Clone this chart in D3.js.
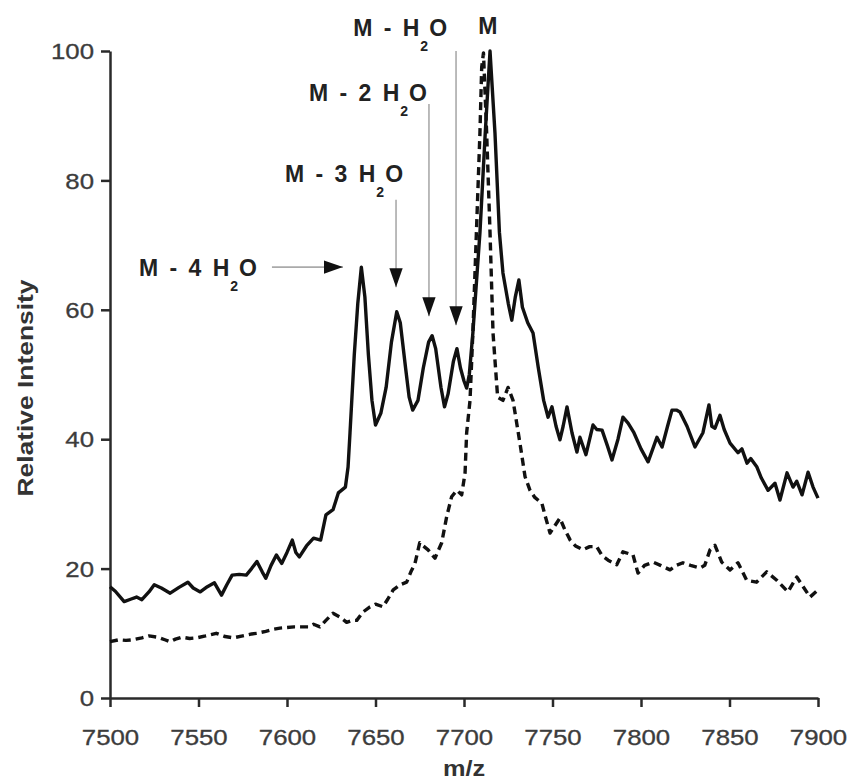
<!DOCTYPE html>
<html lang="en">
<head>
<meta charset="utf-8">
<title>Relative Intensity vs m/z</title>
<script src="https://d3js.org/d3.v7.min.js"></script>
<style>
  body { margin: 0; background: #fff; }
  svg { display: block; font-family: "Liberation Sans", Arial, sans-serif; }
  .axis path, .axis line { stroke: #2a2a2a; stroke-width: 2.5px; fill: none; }
  .tick text { fill: #3c3c3c; font-size: 21.5px; stroke: #3c3c3c; stroke-width: 0.3px; }
  .title { font-weight: bold; font-size: 22px; fill: #333; }
  .ann { font-weight: bold; font-size: 23px; fill: #222; word-spacing: 5px; }
  .ann .sub { font-size: 14px; }
</style>
</head>
<body>
<div id="chart"></div>
<script>
// x ticks (m/z) and y ticks (relative intensity)
var xTicks = [7500, 7550, 7600, 7650, 7700, 7750, 7800, 7850, 7900];
var yTicks = [0, 20, 40, 60, 80, 100];

// solid trace [m/z, intensity]
var solidTrace = [
  [7500,17.2],[7503,16.5],[7508,14.9],[7512,15.3],[7515,15.6],[7518,15.2],[7522,16.4],[7525,17.5],
  [7529,17.0],[7534,16.2],[7539,17.1],[7544,17.9],[7547,17.0],[7551,16.4],[7555,17.2],[7559,17.8],
  [7563,15.9],[7566,17.5],[7569,19.0],[7573,19.1],[7577,19.0],[7580,20.0],[7583,21.1],[7586,19.5],
  [7588,18.5],[7591,20.5],[7594,22.1],[7597,20.8],[7600,22.5],[7603,24.4],[7605,22.5],[7607,21.8],
  [7611,23.5],[7615,24.7],[7619,24.4],[7622,28.3],[7626,29.1],[7629,31.7],[7633,32.6],[7634.5,35.7],
  [7635.6,41],[7636.6,46],[7638,53],[7640,61],[7642,66.6],[7644,62],[7646,53],[7648,46],
  [7650,42.2],[7653,44],[7656,48],[7659,55],[7662,59.7],[7664,58],[7667,51],[7669,46.5],
  [7671,44.5],[7674,46],[7677,51],[7680,55],[7682,56],[7684,54],[7687,48],[7689,45],
  [7691,47],[7694,52],[7696,54],[7698,51],[7700,49],[7701.5,47.9],[7703,50],[7705,56.4],
  [7709,71.9],[7712,87.3],[7714.7,100],[7717.5,87.3],[7720,72],[7722,65.7],[7725,61],[7727,58.4],
  [7729,62],[7731,64.6],[7733,60.4],[7736,58],[7739,56.4],[7742,51],[7745,46],[7747.5,43.4],
  [7749.7,45],[7752,42],[7754.2,39.9],[7756,42],[7758.2,45],[7761,41],[7763.8,38],[7765.5,40.3],
  [7768.9,37.6],[7772.9,42.2],[7775,41.5],[7778,41.4],[7781,39],[7783.6,36.8],[7787,40],[7789.8,43.4],
  [7792.7,42.5],[7796,41],[7800,38.5],[7804,36.5],[7806,38],[7809,40.3],[7811.9,38.8],[7815,42],
  [7817.5,44.5],[7820,44.5],[7822,44.2],[7826,42],[7830.5,38.8],[7835,41],[7838.4,45.3],[7840,42],
  [7841.8,41.7],[7844.6,43.7],[7847,41.5],[7850.3,39.4],[7854.8,37.9],[7857,38.5],[7859.9,36.3],[7862,37],
  [7865.5,35.7],[7868,34],[7871.8,32.1],[7875.7,33.2],[7878.5,30.6],[7882.5,34.8],[7885.9,32.6],[7888,33.5],
  [7891,31.4],[7894.4,34.9],[7897.2,32.6],[7900,30.9]
];

// dashed trace [m/z, intensity]
var dashedTrace = [
  [7500,8.7],[7505,9.0],[7509,8.9],[7513,9.0],[7518,9.3],[7522,9.6],[7527,9.4],[7531,9.0],
  [7534,8.7],[7537,9.1],[7540.5,9.4],[7545,9.2],[7549,9.3],[7554,9.6],[7560,10.0],[7565,9.5],
  [7569.5,9.3],[7575,9.6],[7580,9.9],[7583,10.0],[7588,10.3],[7592,10.6],[7596,10.8],[7600,10.9],
  [7604,11.0],[7607.3,11.0],[7612,11.0],[7615,11.4],[7618.6,11.0],[7622,12.0],[7626,13.1],[7630,12.5],
  [7633.7,11.7],[7637,12.0],[7639.4,12.0],[7643,13.3],[7646.9,14.1],[7650,14.5],[7654.2,14.1],[7657,15.3],
  [7660,16.7],[7664,17.5],[7667.6,17.9],[7670,19.5],[7672.3,20.8],[7675,24.0],[7677,23.5],[7679.7,22.9],
  [7683.6,21.6],[7687.4,24.0],[7690.2,28.0],[7693,31.1],[7696,32.1],[7698.7,31.4],[7700.6,34.8],[7701.5,41],
  [7703.4,46],[7705,56.4],[7707,71.9],[7709,87.3],[7710,97.5],[7711,99.7],[7712.8,87.3],[7714.7,72],
  [7716.4,56.4],[7719,46.5],[7722,46],[7724.9,48],[7727.7,46],[7731.6,39.4],[7734.5,34.2],[7737.3,32.1],
  [7740,31],[7744,30.1],[7746,28],[7748.6,25.5],[7751,26.5],[7754.2,27.8],[7757,26],[7760,24.4],
  [7763,23.5],[7767.2,22.9],[7771,23.4],[7775,23.4],[7778,22],[7781.4,21.3],[7786.3,20.6],[7789.8,22.6],
  [7795.5,22.1],[7798.3,19.3],[7802,20.5],[7806.8,21.0],[7811,20.5],[7816.4,19.8],[7820,20.5],[7823.7,20.9],
  [7828,20.5],[7833.3,20.1],[7836,20.5],[7839,22.9],[7841.8,23.6],[7845.6,21.0],[7850.3,19.8],[7854.8,20.9],
  [7859.7,18.2],[7865.3,17.9],[7871,19.5],[7876.7,18.2],[7883,16.4],[7888,18.7],[7895.5,15.6],[7900,16.7]
];

// peak annotations: label prefix, arrow tip [m/z, intensity], arrow tail [m/z, intensity]
var annLabels = ["M - 4 H", "M - 3 H", "M - 2 H", "M - H"];
var annTips = [[7631.6, 66.6], [7661.6, 63.5], [7680.2, 59.0], [7695.5, 57.6]];
var annTails = [[7591.5, 66.6], [7661.6, 77.0], [7680.2, 91.8], [7695.5, 100.0]];
var parentLabel = "M";
var parentPos = [7713.5, 102.6];

var W = 855, H = 783;
var sx = 1.2; // horizontal stretch of tick lettering
var svg = d3.select("#chart").append("svg").attr("width", W).attr("height", H);

var x = d3.scaleLinear().domain([7500, 7900]).range([110, 818]);
var y = d3.scaleLinear().domain([0, 100]).range([698, 51]);

svg.append("g")
    .attr("class", "x axis")
    .attr("transform", "translate(0,698)")
    .call(d3.axisBottom(x).tickValues(xTicks).tickSize(9).tickSizeOuter(0).tickFormat(d3.format("d")));

svg.append("g")
    .attr("class", "y axis")
    .attr("transform", "translate(110,0)")
    .call(d3.axisLeft(y).tickValues(yTicks).tickSize(9).tickSizeOuter(0));

svg.selectAll(".x.axis .tick text")
    .attr("dy", null).attr("y", 47).attr("x", 0)
    .attr("transform", "scale(" + sx + ",1)");
svg.selectAll(".y.axis .tick text")
    .attr("dy", "0.36em").attr("x", -16 / sx)
    .attr("transform", "scale(" + sx + ",1)");

// axis titles
svg.append("text").attr("class", "title")
    .attr("transform", "translate(" + x(7700) + ",776) scale(1.15,1)")
    .attr("text-anchor", "middle")
    .text("m/z");

svg.append("text").attr("class", "title")
    .attr("transform", "translate(33,388) rotate(-90) scale(1.2,1)")
    .attr("text-anchor", "middle")
    .text("Relative Intensity");

// traces
var line = d3.line().x(function(d) { return x(d[0]); }).y(function(d) { return y(d[1]); });

svg.append("path").datum(dashedTrace)
    .attr("d", line)
    .attr("fill", "none").attr("stroke", "#111").attr("stroke-width", 3.4)
    .attr("stroke-dasharray", "8,5").attr("stroke-linejoin", "round");

svg.append("path").datum(solidTrace)
    .attr("d", line)
    .attr("fill", "none").attr("stroke", "#111").attr("stroke-width", 3.4)
    .attr("stroke-linejoin", "round");

// arrows
svg.append("defs").append("marker")
    .attr("id", "head").attr("viewBox", "0 0 10 10")
    .attr("refX", 10).attr("refY", 5)
    .attr("markerWidth", 19).attr("markerHeight", 19)
    .attr("markerUnits", "userSpaceOnUse")
    .attr("orient", "auto")
  .append("path").attr("d", "M0,1.5 L10,5 L0,8.5 Z").attr("fill", "#111");

annTips.forEach(function(tip, i) {
  var tail = annTails[i];
  svg.append("line")
      .attr("x1", x(tail[0])).attr("y1", y(tail[1]))
      .attr("x2", x(tip[0])).attr("y2", y(tip[1]))
      .attr("stroke", "#aaa").attr("stroke-width", 1.6)
      .attr("marker-end", "url(#head)");
});

// label layout (pixel offsets from the arrow tail)
var annOffsets = [[-15, 9, "end"], [7, -18, "end"], [-2, -3, "end"], [-9, -15, "end"]];

function addLabel(txt, px, py, anchor) {
  var t = svg.append("text").attr("class", "ann")
      .attr("x", px).attr("y", py).attr("text-anchor", anchor);
  t.append("tspan").text(txt);
  t.append("tspan").attr("class", "sub").attr("dy", 15).attr("dx", 1).text("2");
  t.append("tspan").attr("dy", -15).attr("dx", 1).text("O");
}

annLabels.forEach(function(lbl, i) {
  var tail = annTails[i], o = annOffsets[i];
  addLabel(lbl, x(tail[0]) + o[0], y(tail[1]) + o[1], o[2]);
});

svg.append("text").attr("class", "ann")
    .attr("x", x(parentPos[0])).attr("y", y(parentPos[1]))
    .attr("text-anchor", "middle")
    .text(parentLabel);
</script>
</body>
</html>
